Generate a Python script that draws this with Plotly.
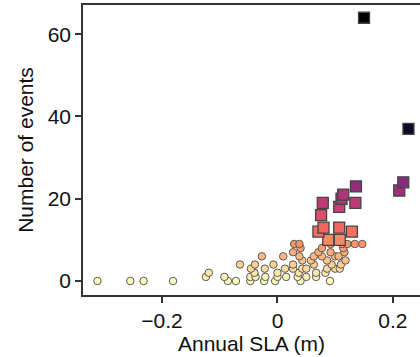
import plotly.graph_objects as go

# Circles: low event counts
circle_sla = [
    -0.312, -0.255, -0.232, -0.181, -0.086, -0.072, -0.047, -0.023, -0.004, 0.040, 0.091,
    -0.124, -0.092, -0.047, -0.038, -0.021, 0.000, 0.015, 0.035, 0.050, 0.067,
    -0.119, -0.040, 0.000, 0.037, 0.067, 0.083,
    -0.046, -0.022, 0.013, 0.027, 0.043, 0.050, 0.086, 0.100, 0.108,
    -0.065, -0.039, -0.007, 0.027, 0.063, 0.094, 0.110,
    0.043, 0.058, 0.086, 0.118,
    -0.027, 0.010, 0.038, 0.063, 0.077, 0.100, 0.106,
    0.027, 0.071, 0.092, 0.116,
    0.040, 0.077, 0.114,
    0.029, 0.038, 0.092, 0.112, 0.121, 0.134, 0.147,
]
circle_events = (
    [0] * 11 + [1] * 10 + [2] * 6 + [3] * 9 + [4] * 7 + [5] * 4 + [6] * 7 + [7] * 4 + [8] * 3 + [9] * 7
)

# Squares: high event counts
square_sla = [0.088, 0.108, 0.071, 0.129, 0.0797, 0.107, 0.0756, 0.107, 0.0785, 0.135,
              0.111, 0.114, 0.211, 0.136, 0.218, 0.227, 0.150]
square_events = [10, 10, 12, 12, 13, 13, 16, 18, 19, 19, 20, 21, 22, 23, 24, 37, 64]

x_ticks = [-0.2, 0, 0.2]
x_tick_labels = ["\u22120.2", "0", "0.2"]
y_ticks = [0, 20, 40, 60]

font_family = "Liberation Sans, Arial, sans-serif"

fig = go.Figure()
fig.add_trace(go.Scatter(
    x=circle_sla, y=circle_events, mode="markers",
    marker=dict(symbol="circle", size=7.5, color=circle_events, colorscale="Magma",
                reversescale=True, cmin=0, cmax=40,
                line=dict(color="#5a5a5a", width=1)),
    showlegend=False,
))
fig.add_trace(go.Scatter(
    x=square_sla, y=square_events, mode="markers",
    marker=dict(symbol="square", size=11, color=square_events, colorscale="Magma",
                reversescale=True, cmin=0, cmax=40,
                line=dict(color="#444444", width=1.3)),
    showlegend=False,
))

fig.update_layout(
    width=420, height=357,
    margin=dict(l=83, r=0, t=5, b=62),
    paper_bgcolor="white", plot_bgcolor="white",
    font=dict(family=font_family, size=21, color="#111111"),
    xaxis=dict(
        range=[-0.337, 0.247], tickvals=x_ticks, ticktext=x_tick_labels,
        showgrid=False, zeroline=False, showline=True, mirror=True,
        linecolor="#333333", linewidth=1.5, ticks="outside", ticklen=6,
        tickcolor="#333333", tickwidth=1.5,
        title=dict(text="Annual SLA (m)", standoff=1, font=dict(size=21)),
    ),
    yaxis=dict(
        range=[-3.4, 67.1], tickvals=y_ticks,
        showgrid=False, zeroline=False, showline=True, mirror=False,
        linecolor="#333333", linewidth=1.5, ticks="outside", ticklen=6,
        tickcolor="#333333", tickwidth=1.5,
        title=dict(text="Number of events", standoff=8, font=dict(size=21)),
    ),
)

fig.write_html(
    "out.html",
    config={"displayModeBar": False},
    post_script="document.body.style.margin='0';document.body.style.overflow='hidden';",
)
